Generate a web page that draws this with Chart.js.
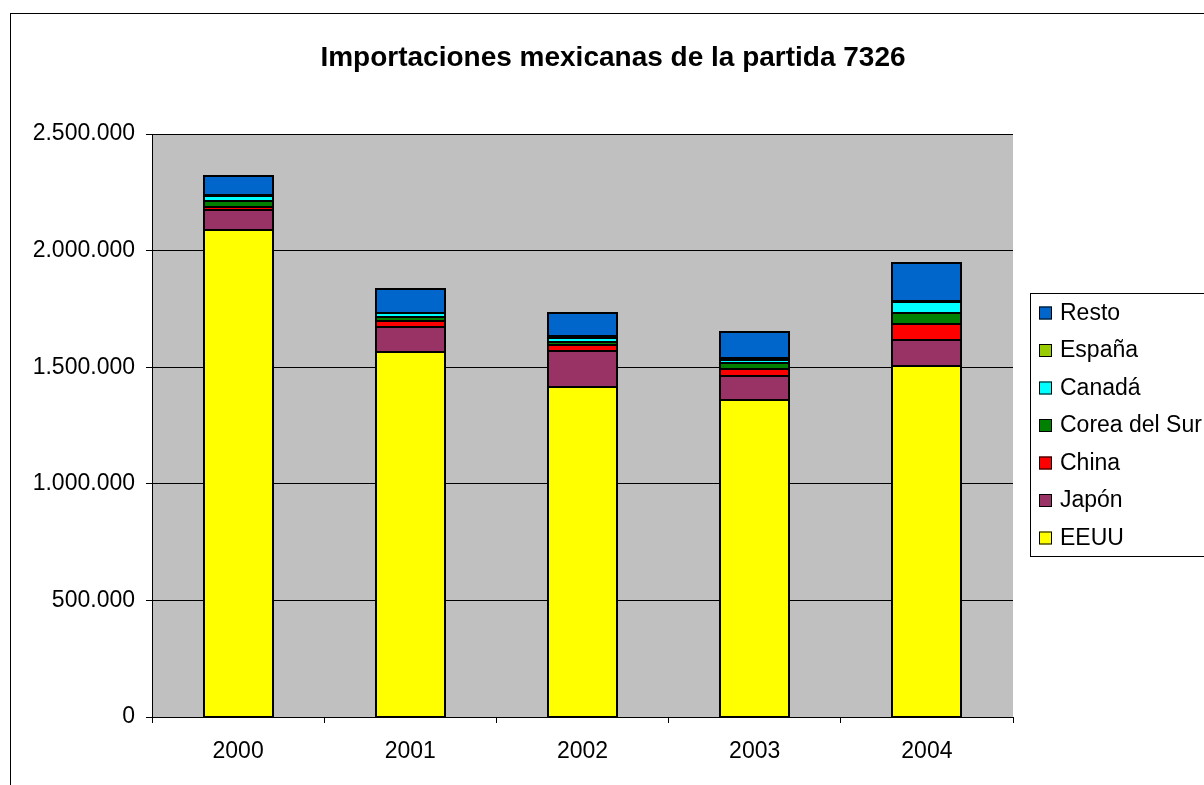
<!DOCTYPE html>
<html lang="es">
<head>
    <meta charset="UTF-8">
    <title>Importaciones mexicanas de la partida 7326</title>
    <script src="https://cdn.jsdelivr.net/npm/chart.js"></script>
    <style>
        html, body { margin: 0; padding: 0; background: #fff; }
        #wrap { width: 1204px; height: 785px; position: relative; }
    </style>
</head>
<body>
    <div id="wrap"><canvas id="chart" width="1204" height="785"></canvas></div>
    <script>
        const years = ['2000', '2001', '2002', '2003', '2004'];
        const eeuu   = [2089000, 1564000, 1415000, 1361000, 1507000];
        const japon  = [85800, 106300, 155700, 100800, 109300];
        const china  = [14000, 27900, 24400, 32200, 68600];
        const corea  = [24400, 15000, 15000, 23600, 48000];
        const canada = [20600, 17200, 17200, 12900, 48500];
        const espana = [6400, 3000, 8600, 8600, 4300];
        const resto  = [79300, 100800, 96500, 113600, 160800];
        const yTicks = [0, 500000, 1000000, 1500000, 2000000, 2500000];

        const series = [
            { label: 'EEUU', data: eeuu, color: '#FFFF00' },
            { label: 'Japón', data: japon, color: '#993366' },
            { label: 'China', data: china, color: '#FF0000' },
            { label: 'Corea del Sur', data: corea, color: '#008000' },
            { label: 'Canadá', data: canada, color: '#00FFFF' },
            { label: 'España', data: espana, color: '#99CC00' },
            { label: 'Resto', data: resto, color: '#0066CC' }
        ];

        const fmt = v => v.toString().replace(/\B(?=(\d{3})+(?!\d))/g, '.');
        const FONT = '"Liberation Sans", Arial, sans-serif';

        // gray plot area, outer frame, title, centred bar outlines and legend
        const decor = {
            id: 'decor',
            beforeDraw(chart) {
                const { ctx, chartArea: a } = chart;
                ctx.save();
                ctx.fillStyle = '#C0C0C0';
                ctx.fillRect(a.left, a.top, a.right - a.left, a.bottom - a.top);
                ctx.strokeStyle = '#000';
                ctx.lineWidth = 1;
                ctx.strokeRect(10.5, 13.5, 1300, 900);
                ctx.restore();
            },
            afterDatasetsDraw(chart) {
                const { ctx } = chart;
                ctx.save();
                ctx.strokeStyle = '#000';
                ctx.lineWidth = 2;
                chart.data.datasets.forEach((d, i) => {
                    chart.getDatasetMeta(i).data.forEach(bar => {
                        const p = bar.getProps(['x', 'y', 'base', 'width'], true);
                        const l = Math.round(p.x - p.width / 2);
                        const r = Math.round(p.x + p.width / 2);
                        const t = Math.round(Math.min(p.y, p.base));
                        const b = Math.round(Math.max(p.y, p.base));
                        ctx.strokeRect(l, t, r - l, b - t);
                    });
                });
                ctx.restore();
            },
            afterDraw(chart) {
                const { ctx } = chart;
                ctx.save();
                ctx.fillStyle = '#000';
                ctx.font = 'bold 28px ' + FONT;
                ctx.textAlign = 'center';
                ctx.textBaseline = 'middle';
                ctx.fillText('Importaciones mexicanas de la partida 7326', 613, 58);

                // legend box
                ctx.strokeStyle = '#000';
                ctx.lineWidth = 1;
                ctx.strokeRect(1030.5, 293.5, 300, 263);
                ctx.font = '23px ' + FONT;
                ctx.textAlign = 'left';
                const ds = chart.data.datasets.slice().reverse();
                ds.forEach((d, i) => {
                    const cy = 312.5 + i * 37.5;
                    ctx.fillStyle = d.backgroundColor;
                    ctx.fillRect(1039, cy - 6, 13, 13);
                    ctx.strokeRect(1039.5, cy - 5.5, 12, 12);
                    ctx.fillStyle = '#000';
                    ctx.fillText(d.label, 1060, cy + 1);
                });
                ctx.restore();
            }
        };

        new Chart(document.getElementById('chart'), {
            type: 'bar',
            data: {
                labels: years,
                datasets: series.map(s => ({
                    label: s.label,
                    data: s.data,
                    backgroundColor: s.color,
                    borderWidth: 0,
                    barPercentage: 0.4,
                    categoryPercentage: 1
                }))
            },
            options: {
                responsive: false,
                animation: false,
                layout: { padding: { left: 0, top: 134, right: 191, bottom: 0 } },
                plugins: { legend: { display: false }, tooltip: { enabled: false } },
                scales: {
                    x: {
                        stacked: true,
                        afterFit: s => { s.height = 68; },
                        grid: { offset: true, drawOnChartArea: false, color: '#000', tickLength: 6 },
                        border: { color: '#000', width: 1 },
                        ticks: { color: '#000', padding: 15, font: { family: FONT, size: 23 } }
                    },
                    y: {
                        stacked: true,
                        min: 0,
                        max: 2500000,
                        afterFit: s => { s.width = 152; },
                        afterBuildTicks: s => { s.ticks = yTicks.map(v => ({ value: v })); },
                        grid: { color: '#000', tickLength: 6, lineWidth: 1 },
                        border: { color: '#000', width: 1 },
                        ticks: {
                            color: '#000',
                            padding: 11,
                            font: { family: FONT, size: 23 },
                            callback: v => fmt(v)
                        }
                    }
                }
            },
            plugins: [decor]
        });
    </script>
</body>
</html>
